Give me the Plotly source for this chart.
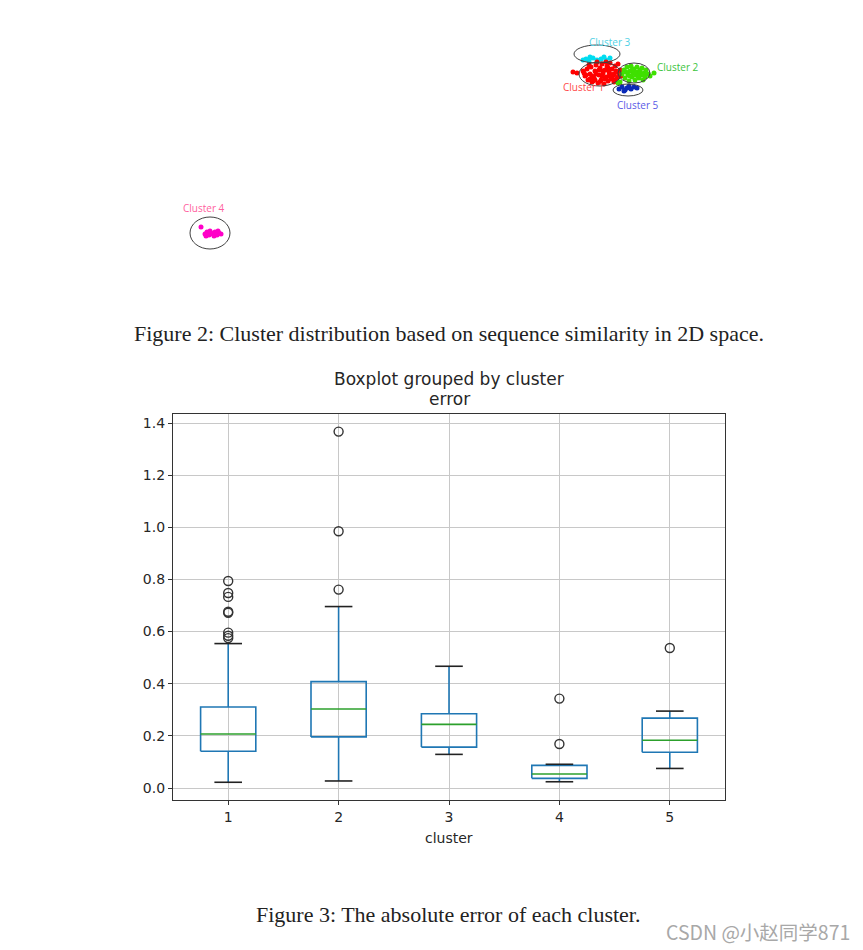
import plotly.graph_objects as go

# ---------------- Box plot data ----------------
clusters = [1, 2, 3, 4, 5]
q1 = [0.141, 0.196, 0.157, 0.037, 0.137]
median = [0.207, 0.303, 0.244, 0.054, 0.183]
q3 = [0.311, 0.408, 0.285, 0.087, 0.268]
lower_whisker = [0.022, 0.027, 0.129, 0.024, 0.075]
upper_whisker = [0.554, 0.696, 0.467, 0.091, 0.295]
outliers = {
    1: [0.794, 0.748, 0.733, 0.676, 0.672, 0.596, 0.584, 0.575],
    2: [0.761, 0.985, 1.367],
    3: [],
    4: [0.343, 0.169],
    5: [0.537],
}
y_ticks = [0.0, 0.2, 0.4, 0.6, 0.8, 1.0, 1.2, 1.4]

# ---------------- 2D cluster scatter data ----------------
c1_x = [57.3, 57.7, 58.3, 58.5, 58.7, 58.8, 59.0, 59.1, 59.2, 59.4, 59.5, 59.6, 59.8, 59.9, 60.0, 60.1,
        60.2, 60.3, 60.4, 60.5, 60.6, 60.7, 60.8, 60.9, 61.0, 61.1, 61.2, 61.3, 61.4, 61.5, 61.6, 61.7,
        61.8, 61.9, 62.0, 58.6, 59.3, 60.0, 60.6, 61.5, 59.7, 60.9, 59.0, 62.1, 58.9,
        59.6, 60.3, 61.0, 61.7, 59.2, 60.5, 61.2, 59.9, 60.8, 61.4, 59.5, 60.2, 60.9, 61.8, 58.4]
c1_y = [22.8, 22.7, 22.9, 22.4, 23.1, 22.0, 22.6, 23.3, 21.8, 22.2, 22.9, 23.5, 21.7, 22.5, 23.2, 22.0,
        23.6, 22.7, 21.6, 23.0, 22.3, 23.4, 21.9, 22.8, 23.7, 22.1, 23.1, 22.5, 21.8, 23.4, 22.9, 22.2,
        23.6, 22.6, 23.0, 22.5, 21.9, 21.8, 23.8, 22.0, 23.8, 22.4, 22.1, 22.4, 23.5,
        22.6, 22.9, 22.6, 22.8, 22.4, 22.1, 22.3, 23.0, 23.2, 22.6, 22.0, 22.4, 23.1, 22.3, 22.7]
c2_x = [62.2, 62.4, 62.5, 62.7, 62.8, 62.9, 63.0, 63.1, 63.2, 63.3, 63.4, 63.5, 63.6, 63.7, 63.8, 63.9,
        64.0, 64.1, 64.2, 64.3, 64.4, 64.5, 64.6, 64.8, 65.0, 62.0, 61.8, 65.4,
        62.6, 63.0, 63.5, 64.0, 64.4, 63.2, 63.8]
c2_y = [22.6, 23.0, 22.2, 23.3, 22.5, 21.9, 22.9, 23.4, 22.3, 22.7, 23.1, 22.0, 22.5, 23.3, 22.8, 22.2,
        23.0, 22.5, 23.2, 22.0, 22.7, 22.3, 23.0, 22.6, 22.4, 21.8, 21.7, 22.7,
        22.8, 22.4, 22.8, 22.7, 22.5, 23.0, 22.4]
c3_x = [58.3, 58.6, 58.9, 59.3, 59.7, 60.1, 60.6, 61.0, 59.0, 60.4]
c3_y = [24.0, 24.1, 23.9, 24.2, 24.0, 24.1, 24.0, 24.2, 24.3, 24.3]
c4_x = [20.1, 20.5, 20.7, 20.9, 21.1, 21.3, 21.5, 21.7, 21.9, 22.1, 20.6, 21.4, 21.0, 21.8]
c4_y = [7.3, 6.6, 6.8, 6.5, 6.7, 6.6, 6.8, 6.5, 6.7, 6.6, 6.4, 6.4, 6.9, 6.9]
c5_x = [61.9, 62.2, 62.5, 62.7, 62.9, 63.1, 63.4, 62.4, 63.7]
c5_y = [21.1, 21.3, 21.0, 21.2, 21.4, 21.1, 21.3, 20.9, 21.2]

cluster_names = ["Cluster 1", "Cluster 2", "Cluster 3", "Cluster 4", "Cluster 5"]
point_colors = ["#ff0000", "#3fe000", "#00dcf0", "#ff00c8", "#0a2ab8"]
label_colors = ["#ff4a4a", "#3cc43c", "#4fd0e4", "#ff5fa0", "#5a5ae6"]
label_x = [58.3, 67.8, 61.0, 20.4, 63.8]
label_y = [21.3, 23.3, 25.8, 9.2, 19.5]
ell_cx = [60.0, 63.4, 59.7, 21.0, 62.8]
ell_cy = [22.6, 22.7, 24.6, 6.7, 21.0]
ell_rx = [2.1, 1.6, 2.3, 2.0, 1.5]
ell_ry = [1.2, 1.0, 0.9, 1.6, 0.6]

fig = go.Figure()

# ---------- scatter (top figure) ----------
pts = [(c1_x, c1_y), (c2_x, c2_y), (c3_x, c3_y), (c4_x, c4_y), (c5_x, c5_y)]
order = [2, 0, 1, 4, 3]
for i in order:
    xs, ys = pts[i]
    fig.add_trace(go.Scatter(x=xs, y=ys, mode="markers", xaxis="x2", yaxis="y2",
                             marker=dict(color=point_colors[i], size=5, line=dict(width=0)),
                             showlegend=False, hoverinfo="skip"))

shapes = []
for i in range(5):
    shapes.append(dict(type="circle", xref="x2", yref="y2",
                       x0=ell_cx[i] - ell_rx[i], x1=ell_cx[i] + ell_rx[i],
                       y0=ell_cy[i] - ell_ry[i], y1=ell_cy[i] + ell_ry[i],
                       line=dict(color="#404040", width=1)))

annotations = []
for i in range(5):
    annotations.append(dict(x=label_x[i], y=label_y[i], xref="x2", yref="y2", text=cluster_names[i],
                            showarrow=False, font=dict(family="Open Sans", size=10, color=label_colors[i])))

# ---------- boxplot ----------
blue = "#1f77b4"
bx, by = [], []
wx, wy = [], []
cx, cy = [], []
mx, my = [], []
ox, oy = [], []
hw = 0.25
cw = 0.125
for i, c in enumerate(clusters):
    bx += [c - hw, c + hw, c + hw, c - hw, c - hw, None]
    by += [q1[i], q1[i], q3[i], q3[i], q1[i], None]
    wx += [c, c, None, c, c, None]
    wy += [q1[i], lower_whisker[i], None, q3[i], upper_whisker[i], None]
    cx += [c - cw, c + cw, None, c - cw, c + cw, None]
    cy += [lower_whisker[i], lower_whisker[i], None, upper_whisker[i], upper_whisker[i], None]
    mx += [c - hw, c + hw, None]
    my += [median[i], median[i], None]
    for v in outliers[c]:
        ox.append(c)
        oy.append(v)

line_w = 1.6
fig.add_trace(go.Scatter(x=wx, y=wy, mode="lines", line=dict(color=blue, width=line_w),
                         showlegend=False, hoverinfo="skip"))
fig.add_trace(go.Scatter(x=bx, y=by, mode="lines", line=dict(color=blue, width=line_w),
                         showlegend=False, hoverinfo="skip"))
fig.add_trace(go.Scatter(x=cx, y=cy, mode="lines", line=dict(color="#222222", width=line_w),
                         showlegend=False, hoverinfo="skip"))
fig.add_trace(go.Scatter(x=mx, y=my, mode="lines", line=dict(color="#2ca02c", width=line_w),
                         showlegend=False, hoverinfo="skip"))
fig.add_trace(go.Scatter(x=ox, y=oy, mode="markers",
                         marker=dict(symbol="circle-open", size=9, color="#333333", line=dict(width=1.4)),
                         showlegend=False, hoverinfo="skip"))

tick_font = dict(family="DejaVu Sans", size=14, color="#262626")
title_font = dict(family="DejaVu Sans", size=17, color="#262626")
caption_font = dict(family="Liberation Serif", size=22, color="#222222")

W, H = 863, 950


def paper_text(text, x, y, font, xanchor="center"):
    return dict(text=text, x=x / W, y=1 - y / H, xref="paper", yref="paper", showarrow=False,
                xanchor=xanchor, yanchor="middle", font=font)


fig.update_layout(
    width=W, height=H,
    margin=dict(l=0, r=0, t=0, b=0),
    paper_bgcolor="white", plot_bgcolor="white",
    shapes=shapes,
    xaxis=dict(domain=[173 / W, 725 / W], range=[0.5, 5.5], tickvals=clusters,
               ticktext=[str(c) for c in clusters], showgrid=True, gridcolor="#c8c8c8", gridwidth=1.2,
               zeroline=False, showline=True, linecolor="#333333", linewidth=1.3, mirror=True,
               ticks="outside", ticklen=4, tickcolor="#333333", tickfont=tick_font),
    yaxis=dict(domain=[1 - 800 / H, 1 - 414 / H], range=[-0.046, 1.4346], tickvals=y_ticks,
               ticktext=["%.1f" % v for v in y_ticks], showgrid=True, gridcolor="#c8c8c8", gridwidth=1.2,
               zeroline=False, showline=True, linecolor="#333333", linewidth=1.3, mirror=True,
               ticks="outside", ticklen=4, tickcolor="#333333", tickfont=tick_font),
    xaxis2=dict(domain=[0, 1], range=[0, 86.3], visible=False, anchor="y2"),
    yaxis2=dict(domain=[1 - 300 / H, 1 - 20 / H], range=[0, 28], visible=False, anchor="x2"),
    annotations=annotations + [
        paper_text("Boxplot grouped by cluster", 449, 379, title_font),
        paper_text("error", 449, 399, title_font),
        paper_text("cluster", 449, 838, tick_font),
        paper_text("Figure 2: Cluster distribution based on sequence similarity in 2D space.",
                   449, 333, caption_font),
        paper_text("Figure 3: The absolute error of each cluster.", 448, 914, caption_font),
        paper_text("CSDN @小赵同学871", 852, 931,
                   dict(family="Noto Sans CJK SC", size=19.5, color="#a8a8a8"), xanchor="right"),
    ],
)

fig.write_html("out.html")
